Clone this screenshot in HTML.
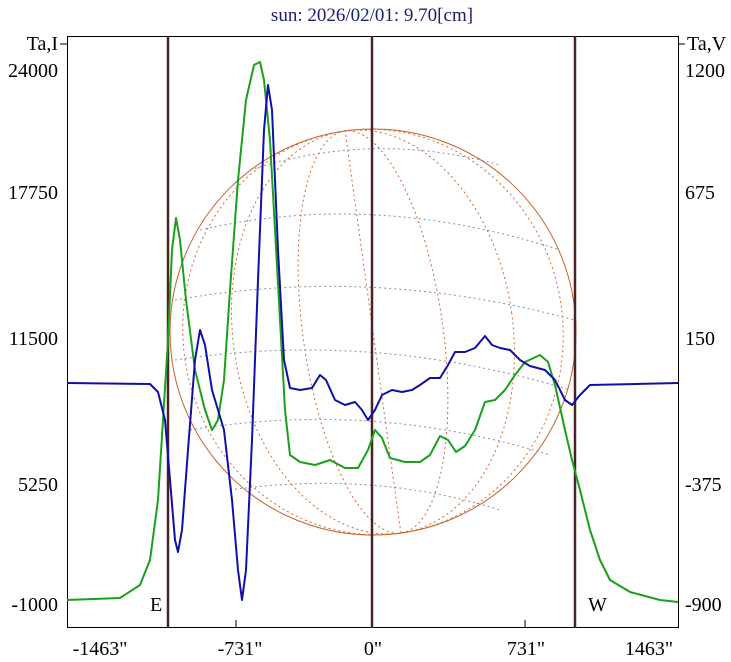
<!DOCTYPE html><html><head><style>body{margin:0;background:#fff}svg{display:block}text{font-family:"Liberation Serif",serif;font-size:20px;fill:#000}</style></head><body>
<svg width="731" height="662" viewBox="0 0 731 662">
<text x="372" y="21" text-anchor="middle" style="fill:#1a2070;font-size:19px">sun: 2026/02/01: 9.70[cm]</text>
<g fill="none" stroke-width="1">
<circle cx="373" cy="332" r="203" stroke="#c8602a"/>
<g stroke="#d06a30" stroke-dasharray="2,3">
<ellipse cx="373" cy="332" rx="70" ry="203" transform="rotate(-8 373 332)"/>
<ellipse cx="373" cy="332" rx="140" ry="203" transform="rotate(-8 373 332)"/>
<ellipse cx="373" cy="332" rx="190" ry="203" transform="rotate(-8 373 332)"/>
<line x1="345" y1="130" x2="401" y2="534"/>
</g>
<g stroke="#8890a8" stroke-dasharray="2,3">
<path d="M200,230 Q373,190 560,250"/><path d="M175,300 Q373,265 574,320"/><path d="M175,360 Q373,330 570,390"/><path d="M190,430 Q373,400 550,455"/><path d="M230,490 Q373,470 500,510"/><path d="M250,170 Q373,130 500,165"/>
</g>
</g>
<rect x="67.5" y="36.5" width="611" height="591" fill="none" stroke="#000"/>
<g stroke="#4a2424" stroke-width="2.5"><line x1="168" y1="36" x2="168" y2="628"/><line x1="372" y1="36" x2="372" y2="628"/><line x1="575" y1="36" x2="575" y2="628"/></g>
<g stroke="#000"><line x1="236" y1="620" x2="236" y2="628"/><line x1="525" y1="620" x2="525" y2="628"/><line x1="60" y1="44" x2="67" y2="44"/><line x1="678" y1="44" x2="685" y2="44"/></g>
<polyline fill="none" stroke="#1aa01a" stroke-width="2" stroke-linejoin="round" points="67,600 120,598 140,585 150,560 158,500 163,420 168,340 172,250 176,218 180,240 186,300 195,370 205,410 212,430 218,420 224,380 230,290 238,180 246,100 254,65 260,62 264,80 270,140 275,230 280,320 285,410 290,455 300,462 315,465 330,460 345,468 358,468 368,450 375,430 382,438 390,458 405,462 420,462 430,455 440,436 448,440 456,452 465,446 475,430 485,402 495,400 505,390 515,375 525,362 540,355 548,362 555,385 565,430 572,460 580,490 590,530 600,560 610,580 630,592 660,600 678,602"/>
<polyline fill="none" stroke="#1010a8" stroke-width="2" stroke-linejoin="round" points="67,383 150,384 158,392 165,420 170,480 175,540 178,552 182,530 188,450 195,360 200,330 205,345 212,390 218,410 224,430 232,500 238,570 242,600 246,570 252,440 258,280 264,130 268,85 272,110 278,250 284,360 290,388 300,390 312,388 320,375 326,380 335,400 345,405 355,402 362,410 368,420 375,410 382,395 392,390 402,392 412,390 420,385 430,378 440,378 448,365 455,352 465,352 475,348 485,336 492,345 500,348 510,350 520,360 530,366 545,370 555,380 565,400 572,405 580,395 590,385 678,383"/>
<g text-anchor="end"><text x="58" y="50">Ta,I</text><text x="58" y="77">24000</text><text x="58" y="199">17750</text><text x="58" y="345">11500</text><text x="58" y="491">5250</text><text x="58" y="611">-1000</text></g>
<g><text x="687" y="50">Ta,V</text><text x="685" y="77">1200</text><text x="685" y="199">675</text><text x="685" y="345">150</text><text x="685" y="491">-375</text><text x="685" y="611">-900</text></g>
<text x="150" y="611">E</text><text x="588" y="611">W</text>
<g text-anchor="middle"><text x="100" y="655">-1463"</text><text x="240" y="655">-731"</text><text x="373" y="655">0"</text><text x="526" y="655">731"</text><text x="649" y="655">1463"</text></g>
</svg></body></html>
